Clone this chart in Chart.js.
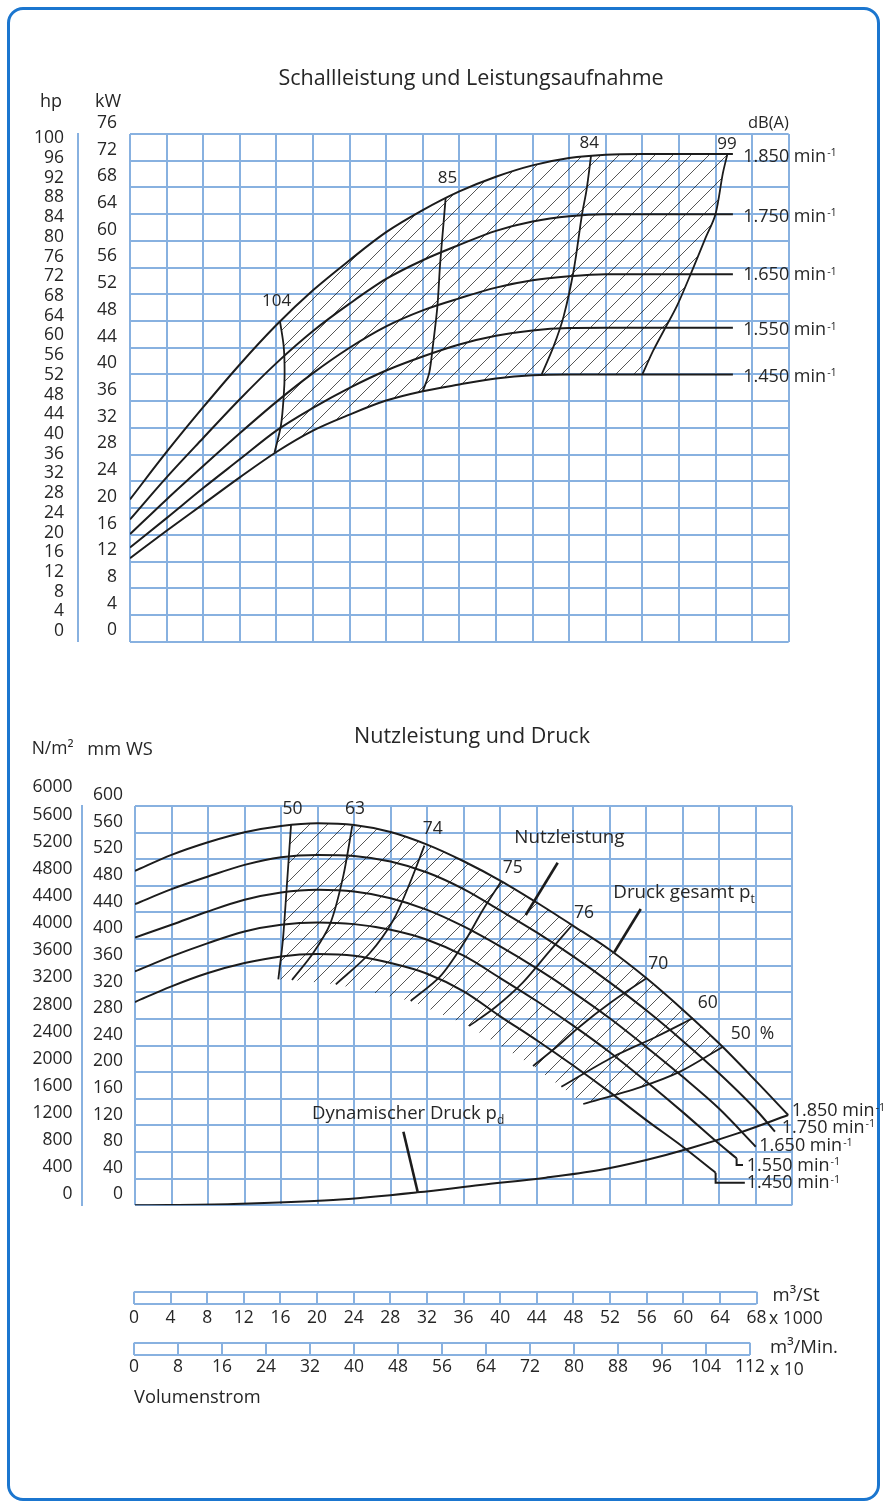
<!DOCTYPE html>
<html><head><meta charset="utf-8">
<script src="https://cdn.jsdelivr.net/npm/chart.js@4.4.1/dist/chart.umd.min.js"></script>
<style>
html,body{margin:0;padding:0;background:#fff;}
#page{position:relative;width:883px;height:1508px;overflow:hidden;font-family:'Open Sans',sans-serif;color:#262626;}
#frame{position:absolute;left:7px;top:7px;width:873px;height:1494px;box-sizing:border-box;border:3px solid #1b76cf;border-radius:16px;}
canvas{position:absolute;left:0;top:0;}
.t{position:absolute;white-space:nowrap;line-height:1;}
.t sup{font-size:0.6em;position:relative;top:-0.5em;vertical-align:baseline;margin-left:1px;}
.t sub{font-size:0.65em;position:relative;top:0.45em;vertical-align:baseline;}
</style></head>
<body><div id="page"><div id="frame"></div>
<canvas id="c1" width="883" height="1508"></canvas>
<canvas id="c2" width="883" height="1508"></canvas>
<canvas id="c3" width="883" height="1508"></canvas>
<canvas id="c4" width="883" height="1508"></canvas>
</div>
<script>
// ================= DATA =================
// x values: Volumenstrom in 1000 m³/h
const volStTicks  = [0,4,8,12,16,20,24,28,32,36,40,44,48,52,56,60,64,68];
const volMinTicks = [0,8,16,24,32,40,48,56,64,72,80,88,96,104,112];
const kwTicks = [0,4,8,12,16,20,24,28,32,36,40,44,48,52,56,60,64,68,72,76];
const hpTicks = [0,4,8,12,16,20,24,28,32,36,40,44,48,52,56,60,64,68,72,76,80,84,88,92,96,100];
const mmTicks = [0,40,80,120,160,200,240,280,320,360,400,440,480,520,560,600];
const paTicks = [0,400,800,1200,1600,2000,2400,2800,3200,3600,4000,4400,4800,5200,5600,6000];

const rpmNames = ['1.850','1.750','1.650','1.550','1.450'];

// Leistungsaufnahme (kW) per speed
const kw1850 = [[0,21.3],[4,28.4],[8,35.1],[12,41.5],[16,47.4],[20,52.6],[24,57.1],[28,61.3],[32,64.6],[36,67.4],[40,69.6],[44,71.3],[48,72.4],[52,72.9],[56,73],[65.9,73]];
const kw1750 = [[0,18.3],[4,24.6],[8,30.5],[12,36.3],[16,41.7],[20,46.5],[24,50.6],[28,54.3],[32,57.1],[36,59.4],[40,61.5],[44,62.9],[48,63.7],[52,64],[56,64],[65.9,64]];
const kw1650 = [[0,16.1],[4,21.3],[8,26.3],[12,31.2],[16,35.9],[20,40.2],[24,44],[28,47.2],[32,49.6],[36,51.4],[40,53],[44,54.1],[48,54.7],[52,55],[56,55],[65.9,55]];
const kw1550 = [[0,14.1],[4,18.5],[8,23],[12,27.3],[16,31.6],[20,35],[24,38],[28,40.6],[32,42.7],[36,44.5],[40,45.8],[44,46.6],[48,46.95],[52,47],[65.9,47]];
const kw1450 = [[0,12.5],[4,16.6],[8,20.6],[12,24.6],[16,28.4],[20,31.6],[24,34],[28,36.1],[32,37.5],[36,38.5],[40,39.4],[44,39.9],[48,40],[65.9,40]];

// Schallleistung iso-lines dB(A)
const dbNames = ['104','85','84','99'];
const db104 = [[16.4,47.9],[16.8,44.2],[16.9,40.2],[16.8,36.7],[16.5,32.4],[15.8,28.3]];
const db85  = [[34.5,66.4],[34.3,63.1],[33.9,56.6],[33.6,50.2],[33.1,44.2],[32.7,40.2],[32.0,37.5]];
const db84  = [[50.4,72.8],[49.9,67.6],[49.4,63.9],[48.5,55.6],[47.4,48.7],[46.3,44.2],[45,40]];
const db99  = [[65.3,73],[64.8,70.1],[64,64],[62.9,60.4],[61.4,55.4],[59.8,50.3],[58.4,46.7],[57.2,43.6],[56,40]];

// Druck gesamt (mm WS) per speed
const p1850 = [[0,502.5],[4,526.5],[8,545.5],[12,560.5],[16,570],[20,574],[24,571.5],[28,561],[32,542],[36,517],[40,488],[44,455],[48,420],[52,384],[56,341.5],[60,294],[64,243],[68,187],[71.55,135.7]];
const p1750 = [[0,452.5],[4,475],[8,494],[12,511.5],[16,523],[20,526.5],[24,525],[28,516.5],[32,500],[36,475],[40,443],[44,410],[48,374],[52,335],[56,293],[60,247],[64,198],[68,144],[70.1,110.6]];
const p1650 = [[0,402.5],[4,421.5],[8,441.5],[12,459],[16,470],[20,474],[24,471.5],[28,461.5],[32,444],[36,419],[40,389],[44,356],[48,320],[52,281],[56,238],[60,193],[64,145],[68,88]];
const p1550 = [[0,351.5],[4,374],[8,394],[12,411.5],[16,421.5],[20,425],[24,422.5],[28,414],[32,399],[36,375],[40,341.5],[44,307],[48,270],[52,230],[56,186],[60,140],[64,92],[65.9,70.6]];
const p1450 = [[0,305.5],[4,329],[8,349],[12,364],[16,374],[20,377.5],[24,375],[28,364],[32,348],[36,321.5],[40,284],[44,248],[48,210],[52,170],[56,128],[60,88],[63.6,49]];
const lead1550 = [[65.9,70.6],[65.9,60.6],[66.6,60.6]];
const lead1450 = [[63.6,49],[63.6,34],[66.8,34]];

// Wirkungsgrad iso-lines (%)
const effNames = ['50','63','74','75','76','70','60','50 %'];
const eff50  = [[17.1,572.9],[16.6,473.8],[16.2,398.6],[15.7,339.6]];
const eff63  = [[23.8,570.4],[22.8,493.8],[21.4,423.7],[19.5,378.7],[17.2,338.6]];
const eff74  = [[31.7,540.4],[30.1,483.9],[28.3,428.7],[25.7,378.7],[22,332]];
const eff75  = [[40.1,486.3],[38.1,443.7],[36,393.7],[33.4,343.5],[30.2,307]];
const eff76  = [[47.8,419.7],[45.3,380],[42.5,335],[39.5,298],[36.6,269.4]];
const eff70  = [[56,341.1],[52,303.5],[48.7,268.4],[46.2,238.3],[43.6,209.3]];
const eff60  = [[61.1,281],[57.1,253.3],[52.4,223.3],[46.7,178.2]];
const eff50p = [[64.4,238.3],[59.7,200.8],[55.3,177.3],[49.1,152.2]];

// Dynamischer Druck (mm WS)
const pdyn = [[0,0],[10.8,2],[21.7,8],[30.9,19.5],[37.8,30.5],[45,41.5],[50.9,53],[56,68],[60.8,85.6],[66,108],[71.55,135.7]];

// pointer lines for captions
const ptrNutz  = [[46.3,514.8],[42.8,436.2]];
const ptrDruck = [[55.4,445.2],[52.5,380.2]];
const ptrDyn   = [[29.4,110.6],[30.96,20.4]];

// ================= STYLE / LAYOUT =================
const FONT = "'Open Sans', sans-serif";
const GRID = '#88b1e0';
const INK = '#1c1c1c';
const TXT = '#262626';
const W = 883, H = 1508;
Chart.defaults.font.family = FONT;
Chart.defaults.color = TXT;

const pts = a => a.map(([x, y]) => ({x, y}));
const curve = (a, w = 2) => ({data: pts(a), borderColor: INK, borderWidth: w, cubicInterpolationMode: 'monotone', pointRadius: 0, fill: false});
const iso = (a, w = 1.8, t = 0.3) => ({data: pts(a), borderColor: INK, borderWidth: w, tension: t, pointRadius: 0, fill: false});
const straight = (a, w = 2) => ({data: pts(a), borderColor: INK, borderWidth: w, tension: 0, pointRadius: 0, fill: false});

function hatchPattern(step) {
  const c = document.createElement('canvas');
  c.width = step; c.height = step;
  const g = c.getContext('2d');
  g.strokeStyle = 'rgba(20,20,20,0.85)';
  g.lineWidth = 0.85;
  g.beginPath();
  g.moveTo(-1, 1); g.lineTo(1, -1);
  g.moveTo(0, step); g.lineTo(step, 0);
  g.moveTo(step - 1, step + 1); g.lineTo(step + 1, step - 1);
  g.stroke();
  return g.createPattern(c, 'repeat');
}
const hatchSet = (a, pat) => ({data: pts(a), borderColor: 'rgba(0,0,0,0)', borderWidth: 0.01, tension: 0, pointRadius: 0, fill: 'shape', backgroundColor: pat, order: 10});

function gridAxis(min, max, step, horiz) {
  return {type: 'linear', position: horiz ? 'bottom' : 'left', min, max, weight: 0,
    ticks: {display: false, stepSize: step},
    grid: {color: GRID, lineWidth: 2, drawTicks: false},
    border: {display: false},
    afterFit: s => { if (horiz) s.height = 0; else s.width = 0; }};
}
function labelAxis(min, max, list, weight, width, pad, offset, border) {
  return {type: 'linear', position: 'left', min, max, weight,
    grid: {display: false, drawTicks: false},
    border: {display: border, color: GRID, width: 2},
    ticks: {autoSkip: false, padding: pad, labelOffset: offset, color: TXT, font: {family: FONT, size: 17.5}, callback: v => String(v)},
    afterBuildTicks: s => { s.ticks = list.map(v => ({value: v})); },
    afterFit: s => { s.width = width; }};
}
const baseOpts = (pad) => ({responsive: false, animation: false, devicePixelRatio: 1,
  layout: {padding: pad},
  plugins: {legend: {display: false}, tooltip: {enabled: false}, title: {display: false}},
  elements: {point: {radius: 0}}});

// ---------- Chart 1: Schallleistung und Leistungsaufnahme ----------
const A1 = {l: 130, t: 134, r: 788.7, b: 641.7};
const top1 = [...db104,
  ...kw1450.filter(p => p[0] > 15.8 && p[0] < 56),
  ...db99.slice().reverse(),
  ...kw1850.filter(p => p[0] > 16.4 && p[0] < 65.3).reverse()];
new Chart(document.getElementById('c1'), {
  type: 'line',
  data: {datasets: [
    curve(kw1850), curve(kw1750), curve(kw1650), curve(kw1550), curve(kw1450),
    iso(db104), iso(db85), iso(db84), iso(db99),
    hatchSet(top1, hatchPattern(18))
  ]},
  options: Object.assign(baseOpts({left: 0, top: A1.t, right: W - A1.r, bottom: H - A1.b}), {
    scales: {
      x: gridAxis(0, 72, 4, true),
      y: gridAxis(0, 76, 4, false),
      kw: labelAxis(0, 76, kwTicks, 1, 52, 13, -11.2, false),
      hp: labelAxis(0, 103, hpTicks, 2, 78, 14, -10.5, true)
    }})
});

// ---------- Chart 2: Nutzleistung und Druck ----------
const A2 = {l: 135, t: 806, r: 792.3, b: 1205.3};
const effLines = [eff63, eff74, eff75, eff76, eff70, eff60];
const bot2 = [...eff50,
  ...effLines.map(l => l[l.length - 1]),
  ...eff50p.slice().reverse(),
  ...p1850.filter(p => p[0] > 17.1 && p[0] < 64.4).reverse()];
new Chart(document.getElementById('c2'), {
  type: 'line',
  data: {datasets: [
    curve(p1850), curve(p1750), curve(p1650), curve(p1550), curve(p1450),
    straight(lead1550), straight(lead1450),
    iso(eff50), iso(eff63), iso(eff74), iso(eff75), iso(eff76), iso(eff70), iso(eff60), iso(eff50p),
    curve(pdyn),
    straight(ptrNutz, 2.6), straight(ptrDruck, 2.6), straight(ptrDyn, 2.6),
    hatchSet(bot2, hatchPattern(18))
  ]},
  options: Object.assign(baseOpts({left: 0, top: A2.t, right: W - A2.r, bottom: H - A2.b}), {
    scales: {
      x: gridAxis(0, 72, 4, true),
      y: gridAxis(0, 600, 40, false),
      mm: labelAxis(0, 600, mmTicks, 1, 53, 12, -10.8, false),
      pa: labelAxis(0, 5886, paTicks, 2, 82, 9.5, -10.8, true)
    }})
});

// ---------- Rulers: Volumenstrom ----------
function ruler(id, area, max, list, pad) {
  new Chart(document.getElementById(id), {
    type: 'line', data: {datasets: []},
    options: Object.assign(baseOpts({left: area.l, top: area.t, right: W - area.r, bottom: H - area.b - 30}), {
      scales: {
        x: {type: 'linear', position: 'bottom', min: 0, max,
          ticks: {autoSkip: false, maxRotation: 0, padding: pad, color: TXT, font: {family: FONT, size: 17.5}, callback: v => String(v)},
          afterBuildTicks: s => { s.ticks = list.map(v => ({value: v})); },
          grid: {color: GRID, lineWidth: 2, drawTicks: false}, border: {display: false},
          afterFit: s => { s.height = 30; }},
        y: {type: 'linear', min: 0, max: 1, ticks: {display: false, stepSize: 1},
          grid: {color: GRID, lineWidth: 2, drawTicks: false}, border: {display: false},
          afterFit: s => { s.width = 0; }}
      }})
  });
}
ruler('c3', {l: 134, t: 1291.7, r: 756.5, b: 1304.3}, 68, volStTicks, 3.4);
ruler('c4', {l: 134, t: 1342.7, r: 750, b: 1355.3}, 112, volMinTicks, 1.2);

// ================= TEXT =================
const page = document.getElementById('page');
function txt(html, x, base, size, align) {
  const d = document.createElement('div');
  d.className = 't';
  d.innerHTML = html;
  d.style.fontSize = size + 'px';
  d.style.top = (base - 0.888 * size) + 'px';
  if (align === 'c') { d.style.left = x + 'px'; d.style.transform = 'translateX(-50%)'; }
  else if (align === 'r') { d.style.right = (W - x) + 'px'; }
  else d.style.left = x + 'px';
  page.appendChild(d);
}
const minus1 = ' min<sup>-1</sup>';
// top chart
txt('Schallleistung und Leistungsaufnahme', 471, 85, 21.5, 'c');
txt('hp', 40, 106.5, 18);
txt('kW', 95, 106.5, 18);
txt('dB(A)', 748, 128.5, 16.5);
txt(dbNames[0], 276.7, 306, 17, 'c');
txt(dbNames[1], 447.5, 183.3, 17, 'c');
txt(dbNames[2], 589.3, 148.3, 17, 'c');
txt(dbNames[3], 727, 149.3, 17, 'c');
[161.7, 221.7, 280, 335, 381.7].forEach((b, i) => txt(rpmNames[i] + minus1, 743.3, b, 18));
// bottom chart
txt('Nutzleistung und Druck', 472, 743.3, 21.5, 'c');
txt('N/m²', 31.7, 755, 17.5);
txt('mm WS', 87.3, 755, 18.3);
[[292.5, 815], [355, 815], [432.7, 835], [512.7, 873.3], [584, 918.3], [658.3, 969.3], [707.7, 1009]].forEach((p, i) => txt(effNames[i], p[0], p[1], 17.5, 'c'));
txt('50&nbsp;&nbsp;%', 730.7, 1039.3, 17.5);
txt('Nutzleistung', 514.3, 843.3, 18.8);
txt('Druck gesamt p<sub>t</sub>', 613.3, 898.3, 18.8);
txt('Dynamischer Druck p<sub>d</sub>', 312, 1119.3, 18.5);
[[791.7, 1116], [781.7, 1132.7], [759.3, 1151], [746.7, 1170.7], [746.7, 1188.3]].forEach((p, i) => txt(rpmNames[i] + minus1, p[0], p[1], 18));
// rulers
txt('m³/St', 772.5, 1301.7, 18.5);
txt('x 1000', 769, 1325, 17.5);
txt('m³/Min.', 770, 1353.3, 18.5);
txt('x 10', 770, 1376, 17.5);
txt('Volumenstrom', 134, 1403.3, 18.3);
</script>
</body></html>
